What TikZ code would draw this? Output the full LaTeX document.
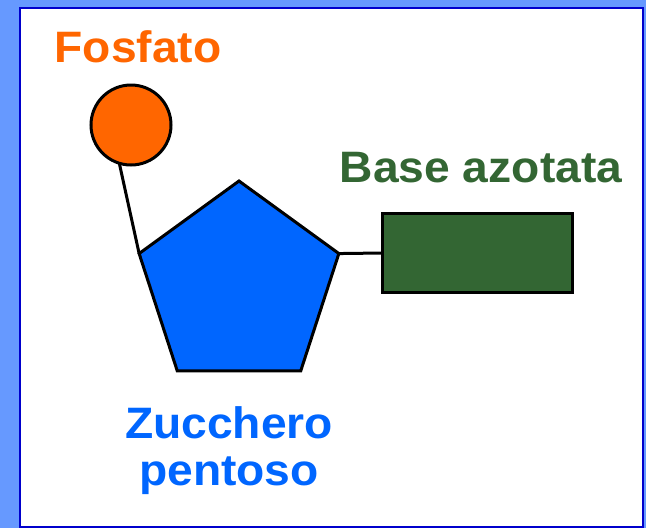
\documentclass[tikz,border=0pt]{standalone}
\usepackage{fontspec}
\setmainfont{Liberation Sans}[FakeStretch=1.05]
\usetikzlibrary{shapes.geometric}
\definecolor{fondo}{HTML}{6699FF}
\definecolor{cornice}{HTML}{0000CC}
\definecolor{arancio}{HTML}{FF6600}
\definecolor{azzurro}{HTML}{0066FF}
\definecolor{verde}{HTML}{336633}

\begin{document}
\begin{tikzpicture}[x=1pt, y=-1pt,
  pezzo/.style={draw=black, line width=3pt, inner sep=0pt, outer sep=0pt},
  scritta/.style={font=\fontsize{44}{47}\selectfont\bfseries, inner sep=0pt, anchor=base}]
\fill [fondo] (0,0) rectangle (646,528);
\useasboundingbox (0,0) rectangle (646,528);
\draw [cornice, line width=2pt, fill=white] (20,8) rectangle (643,527);

\node [pezzo, circle, fill=arancio, minimum size=80pt] (fosfato) at (131,125) {};
\node [pezzo, regular polygon, regular polygon sides=5, fill=azzurro, minimum size=210pt] (zucchero) at (239,286) {};
\node [pezzo, rectangle, fill=verde, minimum width=190pt, minimum height=79pt] (base) at (477.5,253) {};

\draw [line width=3pt] (fosfato.253) to (zucchero.corner 2);
\draw [line width=3pt] (zucchero.corner 5) to (base.west);

\node [scritta, text=arancio] (tfosfato) at (138,62) {Fosfato};
\node [scritta, text=verde] (tbase) at (481,182) {Base azotata};
\node [scritta, text=azzurro, align=center, anchor=north] (tzucchero) at (229,406) {Zucchero\\pentoso};
\end{tikzpicture}
\end{document}
